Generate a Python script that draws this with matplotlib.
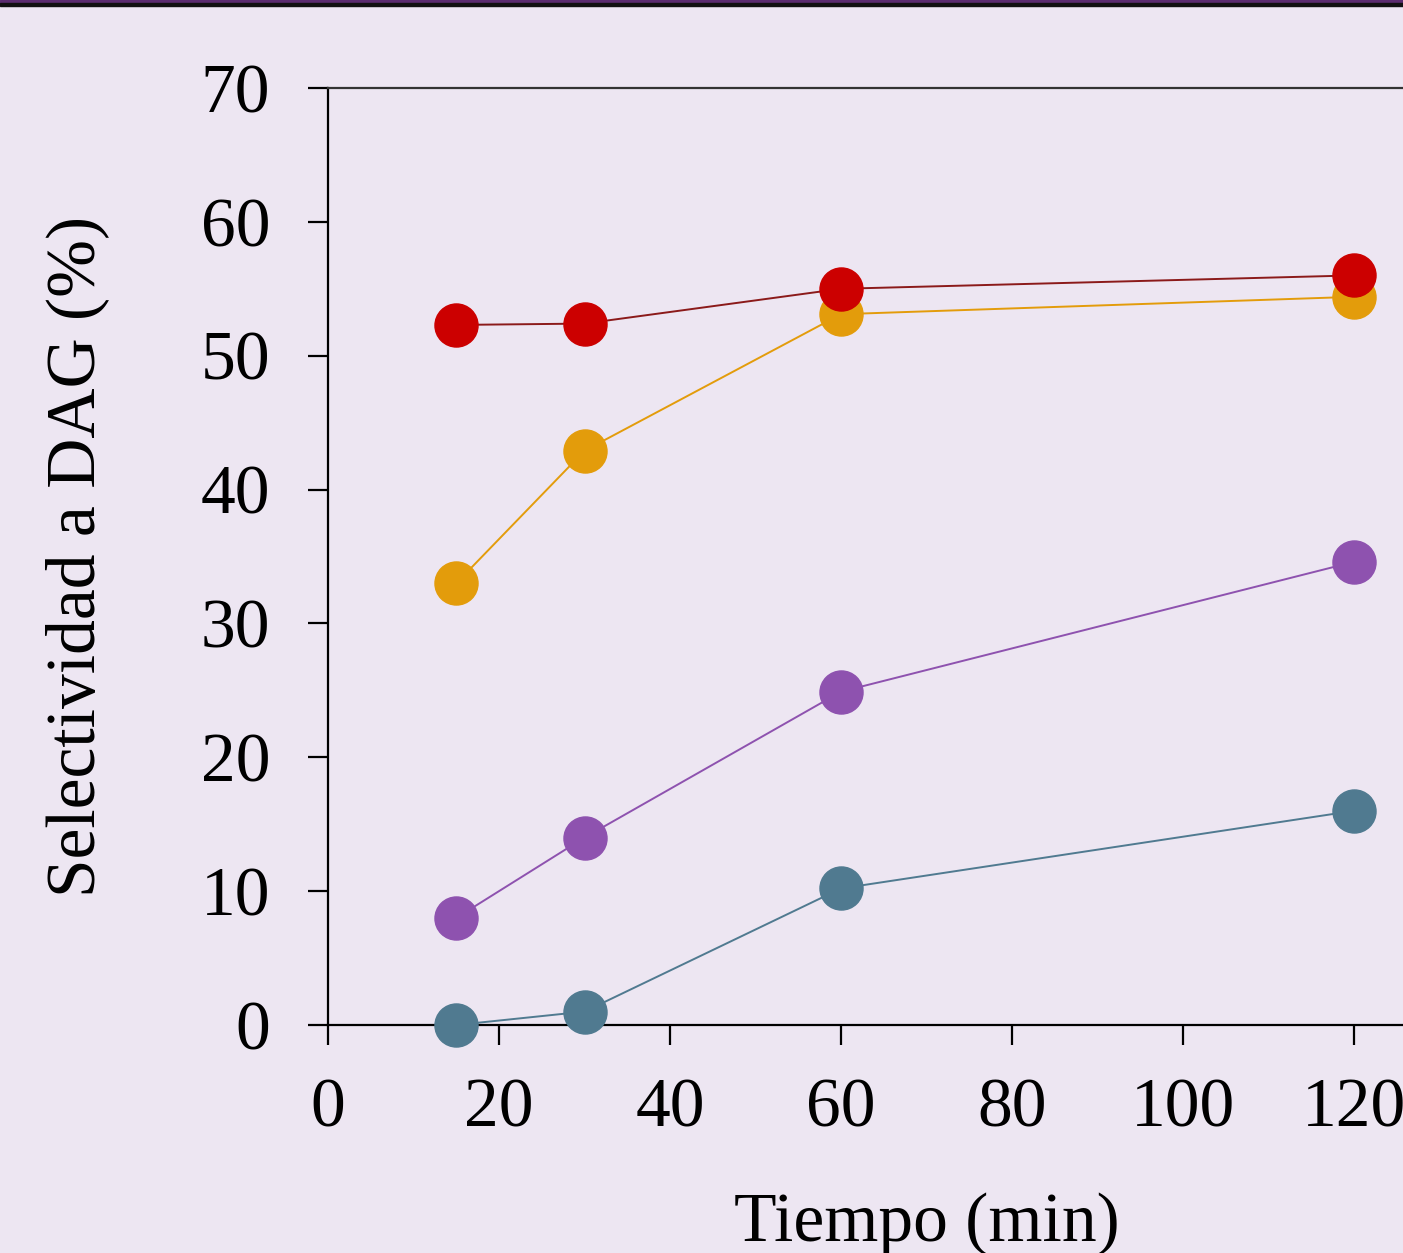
import matplotlib.pyplot as plt

# datos
tiempo = [15, 30, 60, 120]
serie_roja = [52.3, 52.4, 55.0, 56.0]
serie_naranja = [33.0, 42.9, 53.1, 54.4]
serie_morada = [8.0, 14.0, 24.9, 34.6]
serie_azul = [0.0, 1.0, 10.2, 16.0]

xticks = [0, 20, 40, 60, 80, 100, 120]
yticks = [0, 10, 20, 30, 40, 50, 60, 70]

FONDO = "#EDE6F2"

plt.rcParams["font.family"] = ["Liberation Serif", "DejaVu Serif"]

fig = plt.figure(figsize=(14.03, 12.53), dpi=100, facecolor=FONDO)
ax = fig.add_axes([328 / 1403, 228 / 1253, 140 * 8.55 / 1403, 937 / 1253])
ax.set_facecolor(FONDO)

series = [
    (serie_azul, "#507A90", "#507A90"),
    (serie_morada, "#8E52AF", "#8E52AF"),
    (serie_naranja, "#E39C0B", "#E39C0B"),
    (serie_roja, "#8B1A1A", "#CC0000"),
]
for valores, c_linea, c_marca in series:
    ax.plot(tiempo, valores, color=c_linea, lw=1.4, marker="o", ms=31,
            mfc=c_marca, mec=c_marca, clip_on=False, zorder=5)

ax.set_xlim(0, 140)
ax.set_ylim(0, 70)
ax.set_xticks(xticks)
ax.set_yticks(yticks)

for lado in ["left", "bottom", "top"]:
    ax.spines[lado].set_linewidth(1.6)
    ax.spines[lado].set_color("black")
ax.spines["top"].set_color("#333333")
ax.spines["right"].set_visible(False)

ax.tick_params(axis="both", direction="out", length=14.5, width=1.6,
               labelsize=50, colors="black")
ax.tick_params(axis="y", pad=27)
ax.tick_params(axis="x", pad=24)

ax.set_xlabel("Tiempo (min)", fontsize=50, labelpad=36)
ax.set_ylabel("Selectividad a DAG (%)", fontsize=50, labelpad=66)

# banda superior
fig.add_artist(plt.Rectangle((0, 1 - 3 / 1253), 1, 3 / 1253,
                             transform=fig.transFigure, color="#5B2C6F"))
fig.add_artist(plt.Rectangle((0, 1 - 6 / 1253), 1, 3 / 1253,
                             transform=fig.transFigure, color="#111111"))

fig.savefig("out.png", dpi=100, facecolor=FONDO)
